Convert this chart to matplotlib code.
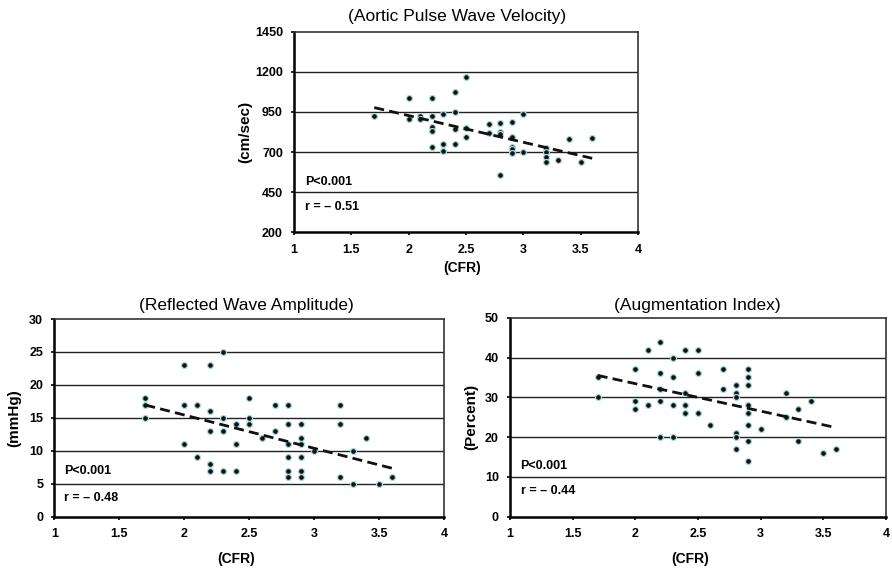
import matplotlib
matplotlib.use("Agg")
import matplotlib.pyplot as plt

plt.rcParams["font.family"] = ["Liberation Sans", "DejaVu Sans"]
plt.rcParams["font.weight"] = "bold"
plt.rcParams["axes.labelweight"] = "bold"

# --- data ------------------------------------------------------------------
# (Aortic Pulse Wave Velocity), cm/sec vs CFR
pwv_x = [1.7, 2.0, 2.0, 2.1, 2.1, 2.2, 2.2, 2.2, 2.2, 2.2, 2.3, 2.3, 2.3,
         2.4, 2.4, 2.4, 2.4, 2.5, 2.5, 2.5, 2.7, 2.7, 2.8, 2.8, 2.8, 2.8,
         2.9, 2.9, 2.9, 2.9, 2.9, 3.0, 3.0, 3.2, 3.2, 3.2, 3.2, 3.3, 3.4,
         3.5, 3.6]
pwv_y = [925, 1035, 904, 927, 904, 1035, 925, 858, 833, 729, 939, 750, 707,
         1076, 948, 844, 750, 1168, 848, 794, 875, 821, 879, 825, 812, 555,
         889, 792, 734, 717, 692, 935, 700, 723, 702, 667, 640, 651, 779,
         636, 790]
pwv_fit_x = [1.7, 3.6]
pwv_fit_y = [977, 661]

# (Reflected Wave Amplitude), mmHg vs CFR
rwa_x = [1.7, 1.7, 1.7, 2.0, 2.0, 2.0, 2.1, 2.1, 2.2, 2.2, 2.2, 2.2, 2.2,
         2.3, 2.3, 2.3, 2.3, 2.4, 2.4, 2.4, 2.5, 2.5, 2.5, 2.6, 2.7, 2.7,
         2.8, 2.8, 2.8, 2.8, 2.8, 2.8, 2.9, 2.9, 2.9, 2.9, 2.9, 2.9, 3.0,
         3.2, 3.2, 3.2, 3.3, 3.3, 3.4, 3.5, 3.6]
rwa_y = [18, 17, 15, 23, 17, 11, 17, 9, 23, 16, 13, 8, 7,
         25, 15, 13, 7, 14, 11, 7, 18, 15, 14, 12, 17, 13,
         17, 14, 11, 9, 7, 6, 14, 12, 11, 9, 7, 6, 10,
         17, 14, 6, 10, 5, 12, 5, 6]
rwa_fit_x = [1.7, 3.6]
rwa_fit_y = [16.95, 7.34]

# (Augmentation Index), percent vs CFR
aix_x = [1.7, 1.7, 2.0, 2.0, 2.0, 2.1, 2.1, 2.2, 2.2, 2.2, 2.2, 2.2,
         2.3, 2.3, 2.3, 2.3, 2.4, 2.4, 2.4, 2.4, 2.5, 2.5, 2.5, 2.6,
         2.7, 2.7, 2.8, 2.8, 2.8, 2.8, 2.8, 2.8, 2.9, 2.9, 2.9, 2.9,
         2.9, 2.9, 2.9, 2.9, 3.0, 3.2, 3.2, 3.3, 3.3, 3.4, 3.5, 3.6]
aix_y = [35, 30, 37, 29, 27, 42, 28, 44, 36, 32, 29, 20,
         40, 35, 28, 20, 42, 31, 28, 26, 42, 36, 26, 23,
         37, 32, 33, 31, 30, 21, 20, 17, 37, 35, 33, 28,
         26, 23, 19, 14, 22, 31, 25, 27, 19, 29, 16, 17]
aix_fit_x = [1.7, 3.57]
aix_fit_y = [35.5, 22.6]

x_ticks = [1, 1.5, 2, 2.5, 3, 3.5, 4]
x_ticklabels = ["1", "1.5", "2", "2.5", "3", "3.5", "4"]


def panel(ax, xs, ys, fx, fy, yticks, title, ylabel, r_text, p_pos, r_pos,
          title_x, title_pad, xlab_pos, ylab_x, xtick_pad):
    ax.set_xlim(1, 4)
    ax.set_ylim(yticks[0], yticks[-1])
    ax.set_yticks(yticks)
    ax.set_xticks(x_ticks)
    ax.set_xticklabels(x_ticklabels)
    for yv in yticks[1:-1]:
        ax.axhline(yv, color="#222222", lw=1.0, zorder=1)
    ax.scatter(xs, ys, s=18, c="#111111", edgecolors="#a9dada",
               linewidths=0.9, zorder=3)
    ax.plot(fx, fy, color="#111111", lw=2.0, ls=(0, (3.6, 1.9)), zorder=4)
    ax.text(p_pos[0], p_pos[1], "P<0.001", fontsize=9, va="center", ha="left")
    ax.text(r_pos[0], r_pos[1], r_text, fontsize=9, va="center", ha="left")
    ax.set_title(title, fontsize=12.5, fontweight="normal", x=title_x,
                 pad=title_pad)
    ax.set_xlabel("(CFR)", fontsize=10)
    ax.xaxis.set_label_coords(xlab_pos[0], xlab_pos[1])
    ax.set_ylabel(ylabel, fontsize=11)
    ax.yaxis.set_label_coords(ylab_x, 0.5)
    for side in ["left", "bottom"]:
        ax.spines[side].set_linewidth(1.8)
    for side in ["top", "right"]:
        ax.spines[side].set_linewidth(1.2)
        ax.spines[side].set_color("#333333")
    ax.tick_params(axis="both", direction="out", length=2.5, width=1.2,
                   labelsize=9)
    ax.tick_params(axis="x", pad=xtick_pad)
    ax.tick_params(axis="y", pad=5.5)


fig = plt.figure(figsize=(8.92, 5.71), dpi=100)

ax1 = fig.add_axes([0.3296, 0.5932, 0.3857, 0.3513])
panel(ax1, pwv_x, pwv_y, pwv_fit_x, pwv_fit_y,
      [200, 450, 700, 950, 1200, 1450], "(Aortic Pulse Wave Velocity)",
      "(cm/sec)", "r = \u2013 0.51", (1.1, 516), (1.1, 360),
      0.474, 8.0, (0.49, -0.143), -0.12, 6.0)

ax2 = fig.add_axes([0.0609, 0.0951, 0.4372, 0.3462])
panel(ax2, rwa_x, rwa_y, rwa_fit_x, rwa_fit_y,
      [0, 5, 10, 15, 20, 25, 30], "(Reflected Wave Amplitude)",
      "(mmHg)", "r = \u2013 0.48", (1.074, 6.9), (1.074, 2.8),
      0.492, 6.5, (0.466, -0.179), -0.084, 5.5)

ax3 = fig.add_axes([0.5717, 0.0951, 0.4215, 0.3485])
panel(ax3, aix_x, aix_y, aix_fit_x, aix_fit_y,
      [0, 10, 20, 30, 40, 50], "(Augmentation Index)",
      "(Percent)", "r = \u2013 0.44", (1.085, 12.8), (1.085, 6.5),
      0.497, 5.5, (0.48, -0.177), -0.084, 5.5)

fig.savefig("out.png", dpi=100)
